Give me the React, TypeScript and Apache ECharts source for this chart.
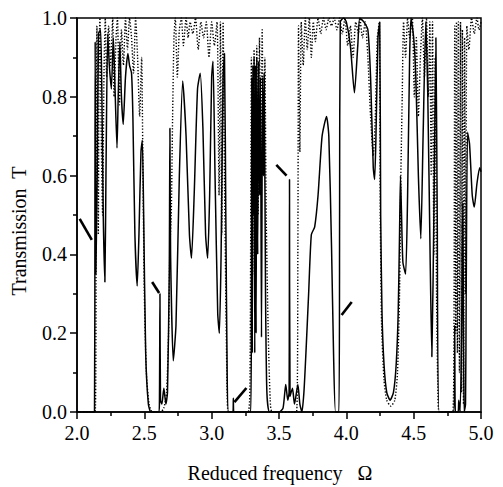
import React, { useEffect, useRef } from "react";
import * as echarts from "echarts";

// Solid curve: [reduced frequency, transmission]
const solidCurve: number[][] = [
  [2.0, 0], [2.13, 0], [2.133, 0.5], [2.135, 0.94], [2.14, 0.35], [2.15, 0.6], [2.16, 0.96],
  [2.175, 0.97], [2.185, 0.8], [2.195, 0.5], [2.207, 0.33], [2.215, 0.6], [2.228, 0.96],
  [2.24, 0.88], [2.255, 0.82], [2.27, 0.95], [2.28, 0.85], [2.297, 0.67], [2.306, 0.8],
  [2.318, 0.94], [2.33, 0.8], [2.343, 0.73], [2.36, 0.85], [2.378, 0.91], [2.39, 0.88],
  [2.405, 0.86], [2.415, 0.75], [2.43, 0.45], [2.447, 0.32], [2.46, 0.45], [2.475, 0.66],
  [2.485, 0.69], [2.495, 0.5], [2.51, 0.15], [2.53, 0.02], [2.55, 0.0], [2.605, 0.0],
  [2.612, 0.02], [2.616, 0.3], [2.62, 0.03], [2.63, 0.02], [2.645, 0.06], [2.66, 0.02],
  [2.672, 0.05], [2.685, 0.35], [2.69, 0.72], [2.695, 0.4], [2.715, 0.13], [2.735, 0.22],
  [2.76, 0.6], [2.785, 0.84], [2.81, 0.7], [2.835, 0.45], [2.85, 0.39], [2.87, 0.55],
  [2.895, 0.82], [2.915, 0.86], [2.935, 0.72], [2.955, 0.45], [2.97, 0.39], [2.985, 0.55],
  [3.0, 0.85], [3.01, 0.89], [3.025, 0.6], [3.045, 0.25], [3.057, 0.2], [3.07, 0.4],
  [3.085, 0.85], [3.095, 0.91], [3.105, 0.5], [3.115, 0.1], [3.125, 0.0], [3.158, 0.0],
  [3.161, 0.035], [3.164, 0.0], [3.29, 0.0], [3.295, 0.3], [3.298, 0.85], [3.302, 0.15],
  [3.306, 0.88], [3.31, 0.5], [3.315, 0.9], [3.32, 0.15], [3.325, 0.88], [3.33, 0.2],
  [3.335, 0.9], [3.342, 0.4], [3.348, 0.89], [3.355, 0.55], [3.362, 0.85], [3.37, 0.19],
  [3.378, 0.85], [3.385, 0.6], [3.39, 0.86], [3.4, 0.3], [3.41, 0.05], [3.43, 0.0],
  [3.5, 0.0], [3.53, 0.01], [3.55, 0.07], [3.565, 0.03], [3.575, 0.05], [3.578, 0.59],
  [3.582, 0.04], [3.6, 0.06], [3.615, 0.02], [3.64, 0.07], [3.655, 0.02], [3.67, 0.0],
  [3.685, 0.05], [3.7, 0.15], [3.72, 0.3], [3.74, 0.45], [3.765, 0.47], [3.79, 0.55],
  [3.82, 0.7], [3.853, 0.75], [3.87, 0.7], [3.89, 0.42], [3.905, 0.15], [3.92, 0.0],
  [3.945, 0.0], [3.95, 0.5], [3.955, 0.99], [3.98, 1.0], [4.0, 0.99], [4.03, 0.93],
  [4.06, 0.81], [4.085, 0.93], [4.1, 1.0], [4.13, 0.99], [4.16, 0.97], [4.18, 0.85],
  [4.2, 0.62], [4.21, 0.59], [4.22, 0.7], [4.235, 0.95], [4.248, 0.99], [4.255, 0.5],
  [4.265, 0.25], [4.28, 0.12], [4.3, 0.05], [4.325, 0.03], [4.35, 0.05], [4.37, 0.12],
  [4.385, 0.25], [4.395, 0.45], [4.402, 0.6], [4.41, 0.5], [4.42, 0.38], [4.44, 0.35],
  [4.455, 0.55], [4.47, 0.9], [4.48, 1.0], [4.5, 0.95], [4.516, 0.85], [4.535, 0.6],
  [4.553, 0.44], [4.57, 0.7], [4.59, 0.99], [4.605, 0.8], [4.622, 0.4], [4.635, 0.14],
  [4.65, 0.5], [4.665, 0.95], [4.675, 0.5], [4.69, 0.0], [4.8, 0.0], [4.805, 0.22],
  [4.81, 0.0], [4.83, 0.0], [4.835, 0.03], [4.845, 0.0], [4.86, 0.3], [4.865, 0.53],
  [4.87, 0.2], [4.875, 0.0], [4.885, 0.02], [4.89, 0.3], [4.9, 0.71], [4.915, 0.68],
  [4.935, 0.55], [4.95, 0.52], [4.97, 0.58], [4.99, 0.62], [5.0, 0.61],
];

// Dotted curve: [reduced frequency, transmission]
const dottedCurve: number[][] = [
  [2.0, 0], [2.135, 0], [2.142, 0.5], [2.148, 0.98], [2.153, 0.7], [2.158, 0.45],
  [2.164, 0.9], [2.17, 1.0], [2.18, 0.7], [2.19, 0.5], [2.2, 0.85], [2.21, 1.0],
  [2.22, 0.85], [2.235, 0.98], [2.25, 0.88], [2.265, 1.0], [2.275, 0.8], [2.29, 0.95],
  [2.3, 1.0], [2.315, 0.78], [2.33, 0.97], [2.345, 0.88], [2.36, 1.0], [2.375, 0.92],
  [2.39, 1.0], [2.405, 0.95], [2.42, 0.86], [2.435, 1.0], [2.45, 0.9], [2.465, 0.75],
  [2.48, 0.9], [2.49, 0.6], [2.5, 0.3], [2.515, 0.1], [2.535, 0.02], [2.56, 0.0],
  [2.62, 0.0], [2.645, 0.01], [2.665, 0.05], [2.68, 0.2], [2.69, 0.42], [2.7, 0.5],
  [2.71, 0.75], [2.72, 0.95], [2.73, 1.0], [2.745, 0.85], [2.76, 0.97], [2.775, 1.0],
  [2.79, 0.93], [2.81, 1.0], [2.825, 0.95], [2.84, 0.99], [2.86, 0.96], [2.88, 1.0],
  [2.9, 0.92], [2.92, 0.99], [2.94, 0.95], [2.96, 0.99], [2.98, 0.9], [3.0, 0.99],
  [3.02, 0.93], [3.04, 0.99], [3.055, 0.55], [3.065, 0.99], [3.075, 0.45], [3.085, 0.99],
  [3.095, 0.6], [3.105, 0.3], [3.115, 0.05], [3.125, 0.0], [3.27, 0.0], [3.285, 0.1],
  [3.295, 0.9], [3.305, 0.35], [3.315, 0.92], [3.325, 0.4], [3.335, 0.93], [3.345, 0.5],
  [3.355, 0.95], [3.365, 0.55], [3.375, 0.97], [3.385, 0.6], [3.395, 0.9], [3.405, 0.5],
  [3.42, 0.2], [3.435, 0.03], [3.45, 0.0], [3.63, 0.0], [3.64, 0.4], [3.645, 0.98],
  [3.655, 0.66], [3.665, 0.99], [3.68, 0.88], [3.695, 1.0], [3.71, 0.92], [3.725, 1.0],
  [3.74, 0.9], [3.755, 0.99], [3.77, 0.94], [3.79, 1.0], [3.81, 0.96], [3.83, 1.0],
  [3.85, 0.97], [3.87, 1.0], [3.89, 0.98], [3.91, 1.0], [3.93, 0.97], [3.95, 1.0],
  [3.97, 0.96], [3.99, 1.0], [4.01, 0.93], [4.03, 0.98], [4.05, 0.9], [4.07, 0.99],
  [4.09, 0.96], [4.1, 1.0], [4.12, 0.95], [4.14, 0.99], [4.16, 0.9], [4.18, 0.75],
  [4.2, 0.65], [4.215, 0.75], [4.23, 0.95], [4.245, 0.99], [4.252, 0.5], [4.262, 0.22],
  [4.28, 0.08], [4.3, 0.03], [4.33, 0.015], [4.36, 0.03], [4.38, 0.1], [4.395, 0.3],
  [4.405, 0.6], [4.415, 0.8], [4.425, 0.99], [4.44, 0.9], [4.455, 1.0], [4.47, 0.95],
  [4.49, 1.0], [4.505, 0.8], [4.52, 0.95], [4.535, 0.75], [4.55, 0.9], [4.565, 1.0],
  [4.58, 0.85], [4.595, 1.0], [4.61, 0.8], [4.62, 0.99], [4.63, 0.6], [4.64, 0.99],
  [4.65, 0.4], [4.66, 0.9], [4.67, 0.3], [4.68, 0.05], [4.69, 0.0], [4.79, 0.0],
  [4.8, 0.3], [4.805, 0.98], [4.812, 0.2], [4.818, 0.99], [4.825, 0.15], [4.832, 0.99],
  [4.84, 0.1], [4.848, 0.99], [4.855, 0.05], [4.862, 0.97], [4.87, 0.02], [4.878, 0.95],
  [4.885, 0.3], [4.895, 0.98], [4.91, 0.92], [4.93, 1.0], [4.95, 0.96], [4.97, 1.0],
  [4.985, 0.97], [5.0, 0.99],
];

// Short arrow marks pointing at features: [x1, y1, x2, y2]
const arrowMarks: number[][] = [
  [2.02, 0.49, 2.11, 0.437],
  [2.558, 0.33, 2.61, 0.302],
  [3.169, 0.025, 3.258, 0.061],
  [3.48, 0.627, 3.556, 0.6],
  [3.965, 0.246, 4.04, 0.279],
];

const xTicks = { min: 2.0, max: 5.0, interval: 0.5 };
const yTicks = { min: 0.0, max: 1.0, interval: 0.2 };
const xTitle = "Reduced frequency   Ω";
const yTitle = "Transmission  T";

const FONT = "Liberation Serif";

export default function App() {
  const ref = useRef<HTMLDivElement>(null);
  useEffect(() => {
    if (!ref.current) return;
    const chart = echarts.init(ref.current, undefined, { renderer: "svg" });
    const tickStyle = { color: "#000", width: 1.5 };
    chart.setOption({
      animation: false,
      backgroundColor: "#fff",
      grid: {
        left: 77, right: 22, top: 18, bottom: 75,
        show: true, borderColor: "#000", borderWidth: 1.5, backgroundColor: "transparent",
      },
      graphic: [
        {
          type: "text", x: 19, y: 231, rotation: Math.PI / 2,
          style: { text: yTitle, font: `20px "${FONT}"`, fill: "#000", align: "center", verticalAlign: "middle" },
        },
        {
          type: "text", x: 280, y: 473,
          style: { text: xTitle, font: `20px "${FONT}"`, fill: "#000", align: "center", verticalAlign: "middle" },
        },
      ],
      xAxis: {
        type: "value",
        min: xTicks.min, max: xTicks.max, interval: xTicks.interval,
        axisLine: { lineStyle: { color: "#000", width: 1.5 } },
        axisTick: { inside: false, length: 7, lineStyle: tickStyle },
        minorTick: { show: true, splitNumber: 2, length: 4, lineStyle: tickStyle },
        axisLabel: { fontFamily: FONT, fontSize: 20, color: "#000", margin: 11,
          formatter: (v: number) => v.toFixed(1) },
        splitLine: { show: false },
      },
      yAxis: {
        type: "value",
        min: yTicks.min, max: yTicks.max, interval: yTicks.interval,
        axisLine: { show: true, lineStyle: { color: "#000", width: 1.5 } },
        axisTick: { show: true, inside: false, length: 7, lineStyle: tickStyle },
        minorTick: { show: true, splitNumber: 2, length: 4, lineStyle: tickStyle },
        axisLabel: { fontFamily: FONT, fontSize: 20, color: "#000", margin: 10,
          formatter: (v: number) => v.toFixed(1) },
        splitLine: { show: false },
      },
      series: [
        {
          type: "line", data: dottedCurve, symbol: "none", smooth: 0.2, clip: true,
          lineStyle: { color: "#000", width: 1.4, type: [1.3, 1.8] }, z: 2,
        },
        {
          type: "line", data: solidCurve, symbol: "none", smooth: 0.2, clip: true,
          lineStyle: { color: "#000", width: 1.5, type: "solid" }, z: 3,
          markLine: {
            silent: true, symbol: ["none", "none"], label: { show: false },
            lineStyle: { color: "#000", width: 2.6, type: "solid" },
            data: arrowMarks.map((a) => [{ coord: [a[0], a[1]] }, { coord: [a[2], a[3]] }]),
          },
        },
      ],
    });
    return () => chart.dispose();
  }, []);
  return <div ref={ref} style={{ position: "fixed", left: 0, top: 0, width: 503, height: 487 }} />;
}
